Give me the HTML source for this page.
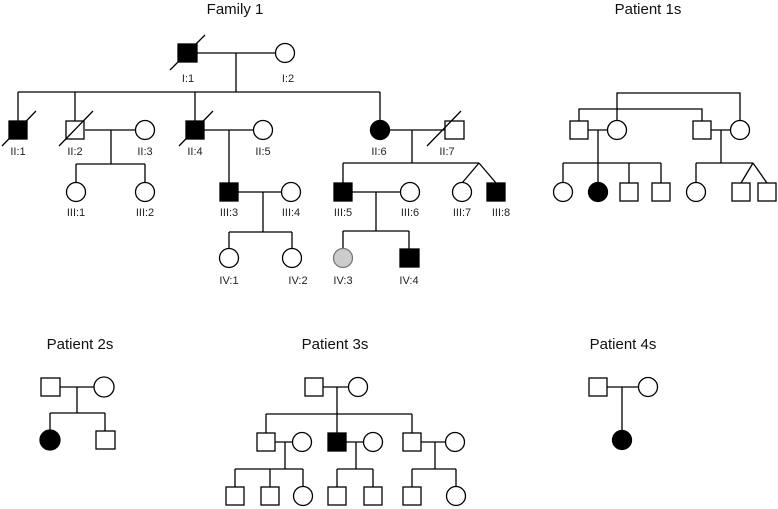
<!DOCTYPE html>
<html><head><style>body{margin:0;background:#fff}svg{display:block}</style></head><body>
<svg width="778" height="509" viewBox="0 0 778 509" xmlns="http://www.w3.org/2000/svg" font-family="Liberation Sans, sans-serif">
<g stroke="#000" stroke-width="1.3" fill="none">
<path d="M197 53H276M236 53V92M18 92H380M18 92V121M75 92V121M195 92V121M380 92V120M85 130H135M111 130V164M76 164H145M76 164V183M145 164V183M204 130H254M229 130V183M389 130H445M412 130V163M343 163H479M343 163V183M479 163L462 183M479 163L496 183M238 192H282M263 192V232M229 232H292M229 232V249M292 232V249M352 192H400M376 192V231M343 231H409M343 231V249M409 231V249"/>
<path d="M617 121V93H740V121M579 121V109H702V121M588 130H607M598 130V163M711 130H730M721 130V163M563 163H661M563 163V183M598 163V183M629 163V183M661 163V183M696 163H753M696 163V183M753 163L741 183M753 163L767 183"/>
<path d="M60 387H94M77 387V413M50 413H105M50 413V431M105 413V431"/>
<path d="M323 387H348M337 387V414M266 414H412M266 414V433M337 414V433M412 414V433M275 442H292M285 442V469M346 442H363M356 442V469M421 442H445M435 442V469M235 469H303M235 469V487M270 469V487M303 469V487M337 469H373M337 469V487M373 469V487M412 469H456M412 469V487M456 469V487"/>
<path d="M607 387H638M622 387V431"/>
</g>
<g stroke="#000" stroke-width="1.3">
<rect x="178" y="44" width="19" height="18" fill="#000"/>
<circle cx="285" cy="53" r="9.5" fill="#fff"/>
<rect x="9" y="121" width="18" height="18" fill="#000"/>
<rect x="66" y="121" width="18" height="18" fill="#fff"/>
<circle cx="145" cy="130" r="9.5" fill="#fff"/>
<rect x="186" y="121" width="18" height="18" fill="#000"/>
<circle cx="263" cy="130" r="9.5" fill="#fff"/>
<circle cx="380" cy="130" r="9.5" fill="#000"/>
<rect x="445" y="121" width="19" height="18" fill="#fff"/>
<circle cx="76" cy="192" r="9.5" fill="#fff"/>
<circle cx="145" cy="192" r="9.5" fill="#fff"/>
<rect x="220" y="183" width="18" height="18" fill="#000"/>
<circle cx="291" cy="192" r="9.5" fill="#fff"/>
<rect x="334" y="183" width="18" height="18" fill="#000"/>
<circle cx="410" cy="192" r="9.5" fill="#fff"/>
<circle cx="462" cy="192" r="9.5" fill="#fff"/>
<rect x="487" y="183" width="18" height="18" fill="#000"/>
<circle cx="229" cy="258" r="9.5" fill="#fff"/>
<circle cx="292" cy="258" r="9.5" fill="#fff"/>
<circle cx="343" cy="258" r="9.5" fill="#ccc" stroke="#777"/>
<rect x="400" y="249" width="19" height="18" fill="#000"/>
<path d="M170 70L205 35M2 146L36 111M59 146L93 111M179 146L213 111M427 146L461 111" fill="none"/>
<rect x="570" y="121" width="18" height="18" fill="#fff"/>
<circle cx="617" cy="130" r="9.5" fill="#fff"/>
<rect x="693" y="121" width="18" height="18" fill="#fff"/>
<circle cx="740" cy="130" r="9.5" fill="#fff"/>
<circle cx="563" cy="192" r="9.5" fill="#fff"/>
<circle cx="598" cy="192" r="9.5" fill="#000"/>
<rect x="620" y="183" width="18" height="18" fill="#fff"/>
<rect x="652" y="183" width="18" height="18" fill="#fff"/>
<circle cx="696" cy="192" r="9.5" fill="#fff"/>
<rect x="732" y="183" width="18" height="18" fill="#fff"/>
<rect x="758" y="183" width="18" height="18" fill="#fff"/>
<rect x="41" y="378" width="19" height="18" fill="#fff"/>
<ellipse cx="104" cy="387" rx="10" ry="10" fill="#fff"/>
<ellipse cx="50" cy="440" rx="10" ry="10" fill="#000"/>
<rect x="96" y="431" width="19" height="18" fill="#fff"/>
<rect x="305" y="378" width="18" height="18" fill="#fff"/>
<circle cx="358" cy="387" r="9.5" fill="#fff"/>
<rect x="257" y="433" width="18" height="18" fill="#fff"/>
<circle cx="302" cy="442" r="9.5" fill="#fff"/>
<rect x="328" y="433" width="18" height="18" fill="#000"/>
<circle cx="373" cy="442" r="9.5" fill="#fff"/>
<rect x="403" y="433" width="18" height="18" fill="#fff"/>
<circle cx="455" cy="442" r="9.5" fill="#fff"/>
<rect x="226" y="487" width="18" height="18" fill="#fff"/>
<rect x="261" y="487" width="18" height="18" fill="#fff"/>
<circle cx="303" cy="496" r="9.5" fill="#fff"/>
<rect x="328" y="487" width="18" height="18" fill="#fff"/>
<rect x="364" y="487" width="18" height="18" fill="#fff"/>
<rect x="403" y="487" width="18" height="18" fill="#fff"/>
<circle cx="456" cy="496" r="9.5" fill="#fff"/>
<rect x="589" y="378" width="18" height="18" fill="#fff"/>
<circle cx="648" cy="387" r="9.5" fill="#fff"/>
<circle cx="622" cy="440" r="9.5" fill="#000"/>
</g>
<g font-size="15" fill="#111" text-anchor="middle">
<text x="235" y="14">Family 1</text>
<text x="648" y="14">Patient 1s</text>
<text x="80" y="349">Patient 2s</text>
<text x="335" y="349">Patient 3s</text>
<text x="623" y="349">Patient 4s</text>
</g>
<g font-size="11" fill="#222" text-anchor="middle">
<text x="188" y="82">I:1</text><text x="288" y="82">I:2</text>
<text x="18" y="155">II:1</text><text x="75" y="155">II:2</text><text x="145" y="155">II:3</text>
<text x="195" y="155">II:4</text><text x="263" y="155">II:5</text><text x="379" y="155">II:6</text><text x="447" y="155">II:7</text>
<text x="76" y="216">III:1</text><text x="145" y="216">III:2</text><text x="229" y="216">III:3</text><text x="291" y="216">III:4</text>
<text x="343" y="216">III:5</text><text x="410" y="216">III:6</text><text x="462" y="216">III:7</text><text x="501" y="216">III:8</text>
<text x="229" y="284">IV:1</text><text x="298" y="284">IV:2</text><text x="343" y="284">IV:3</text><text x="409" y="284">IV:4</text>
</g>
</svg>
</body></html>
